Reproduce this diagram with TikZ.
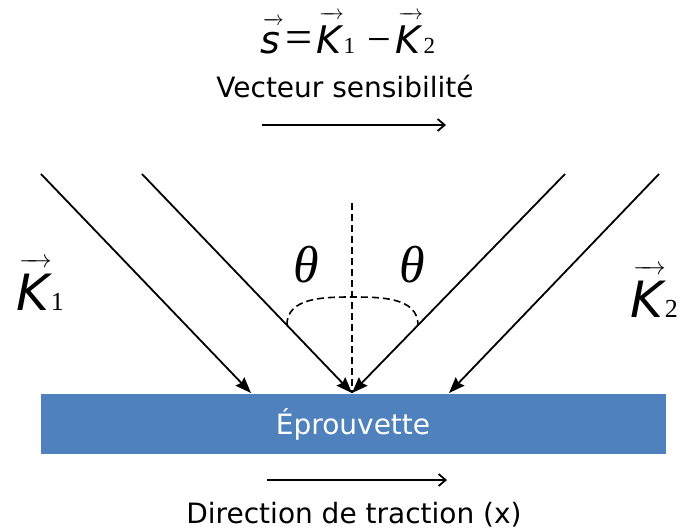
\documentclass[tikz,border=0pt]{standalone}
\usepackage{amsmath}
\usepackage{fontspec}
\newfontfamily\vecfont{DejaVu Sans}
\newfontfamily\timesfont{Liberation Serif}
\usetikzlibrary{positioning,calc,arrows.meta}
\definecolor{eprblue}{HTML}{4F81BD}
\newcommand{\ovec}[2][20]{\leavevmode\setbox0\hbox{#2}%
  \vbox{\offinterlineskip\hbox to\wd0{\fontsize{#1}{#1}\selectfont\kern0.12em\rightarrowfill\kern-0.12em}\kern6pt\box0}}
\newcommand{\subdigit}[2][23]{{\timesfont\fontsize{#1}{#1}\selectfont #2}}

\begin{document}
\begin{tikzpicture}[x=1pt,y=-1pt,
  txt/.style={font=\vecfont\fontsize{28}{30}\selectfont, inner sep=0pt},
  ray/.style={line width=1.8pt, -{Stealth[length=16pt,width=12pt,inset=2pt]}},
  dirarrow/.style={line width=1.8pt, -{Straight Barb[length=7pt,width=12pt]}},
  normal/.style={line width=1.6pt, dash pattern=on 7pt off 4pt},
  angle/.style={font=\timesfont\itshape\fontsize{52}{52}\selectfont, inner sep=0pt}]
  \useasboundingbox (0,0) rectangle (691,531);

  \node[fill=eprblue, minimum width=625pt, minimum height=60pt, inner sep=0pt,
        text=white, font=\vecfont\fontsize{28}{30}\selectfont] (spec) at (353,424) {Éprouvette};

  \node[anchor=base, inner sep=0pt, font=\vecfont\fontsize{38}{38}\selectfont] (sens) at (348,53)
    {\ovec{\itshape s}\kern5pt{\timesfont\fontsize{48}{48}\selectfont =}\kern4pt\ovec{\itshape K}\kern2pt\subdigit{1}\kern12pt{\timesfont\fontsize{42}{42}\selectfont −}\kern5pt\ovec{\itshape K}\kern3pt\subdigit{2}};
  \node[txt, anchor=base] (vlabel) at (345,97) {Vecteur sensibilité};
  \coordinate (s1) at (262,125);
  \coordinate (s2) at (446,125);
  \draw[dirarrow] (s1) -- (s2);

  \coordinate (o) at (352,393);
  \coordinate (a1) at (41,174);
  \coordinate (a2) at (142,174);
  \coordinate (b1) at (565,174);
  \coordinate (b2) at (659,174);
  \coordinate (t1) at (251,393);
  \coordinate (t2) at (449,393);
  \draw[ray] (a1) -- (t1);
  \draw[ray] (a2) -- (o);
  \draw[ray] (b1) -- (o);
  \draw[ray] (b2) -- (t2);

  \coordinate (n) at (352,203);
  \coordinate (q) at (352,297);
  \coordinate (p1) at ($(o)!0.31!(a2)$);
  \coordinate (p2) at ($(o)!0.31!(b1)$);
  \draw[normal] (n) -- (o);
  \draw[normal] (p1) to[out=90,in=180] (q) to[out=0,in=90] (p2);
  \node[angle] (thl) at (306,265) {θ};
  \node[angle] (thr) at (412,265) {θ};

  \node[anchor=base west, inner sep=0pt, font=\vecfont\fontsize{50}{50}\selectfont] (kone) at (16,310)
    {\ovec[24]{\itshape K}\kern2pt\subdigit[26]{1}};
  \node[anchor=base west, inner sep=0pt, font=\vecfont\fontsize{50}{50}\selectfont] (ktwo) at (630,317)
    {\ovec[24]{\itshape K}\kern2pt\subdigit[26]{2}};

  \coordinate (d1) at (267,480);
  \coordinate (d2) at (447,480);
  \draw[dirarrow] (d1) -- (d2);
  \node[txt, anchor=base] (dirlabel) at (354,523) {Direction de traction (x)};
\end{tikzpicture}
\end{document}
